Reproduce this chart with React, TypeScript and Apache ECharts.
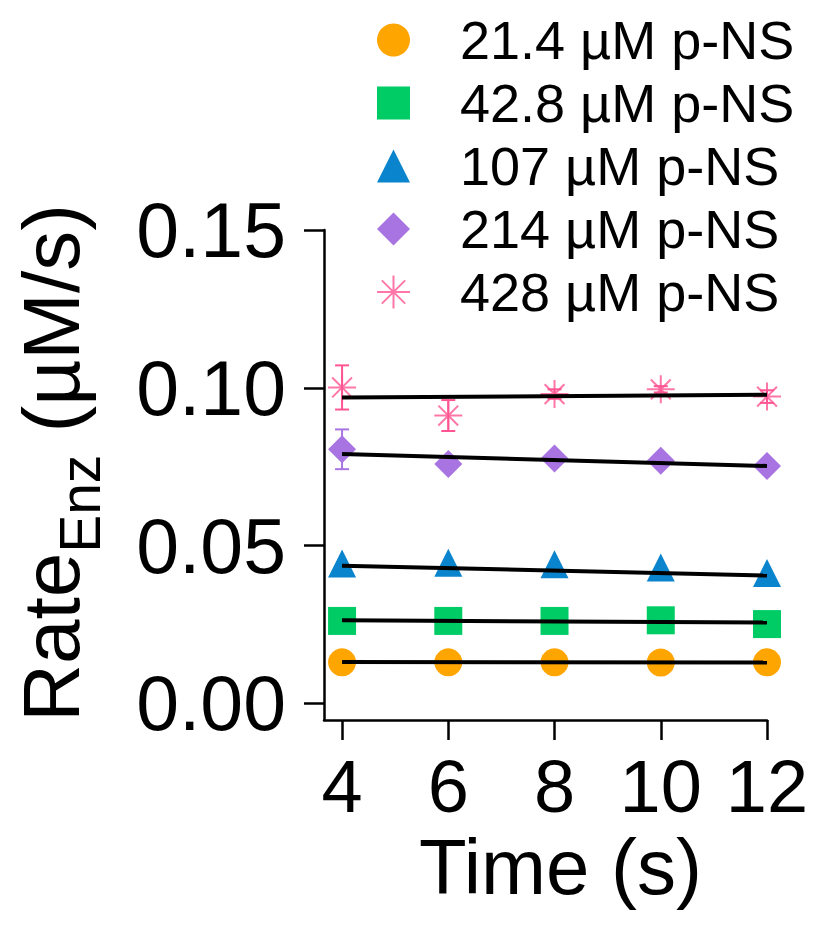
import React, { useEffect, useRef } from "react";
import * as echarts from "echarts";

const times = [4, 6, 8, 10, 12];
const xTicks = [4, 6, 8, 10, 12];
const yTicks = [0, 0.05, 0.1, 0.15];

const names = ["21.4 µM p-NS", "42.8 µM p-NS", "107 µM p-NS", "214 µM p-NS", "428 µM p-NS"];
const r21 = [0.013, 0.013, 0.013, 0.0129, 0.013];
const r43 = [0.0261, 0.0261, 0.0261, 0.0263, 0.0251];
const r107 = [0.0443, 0.0445, 0.0441, 0.043, 0.0413];
const r214 = [0.0805, 0.0758, 0.0776, 0.0769, 0.0752];
const r428 = [0.1001, 0.0912, 0.098, 0.0995, 0.0972];

const err214 = [0.0063, 0, 0, 0, 0];
const err428 = [0.007, 0.0049, 0.0015, 0.001, 0.002];

const fitX = [4, 12];
const fit21 = [0.0131, 0.0129];
const fit43 = [0.0263, 0.0256];
const fit107 = [0.0436, 0.0405];
const fit214 = [0.079, 0.0752];
const fit428 = [0.0969, 0.0978];

const colors = ["#FFA500", "#00CC66", "#0A84CC", "#A874E2", "#FF5592"];
const FONT = "'Liberation Sans', Arial, sans-serif";
const ASTERISK =
  "path://M10 0 L10 20 M0 10 L20 10 M2.93 2.93 L17.07 17.07 M17.07 2.93 L2.93 17.07";

export default function App() {
  const ref = useRef<HTMLDivElement>(null);
  useEffect(() => {
    if (!ref.current) return;
    const chart = echarts.init(ref.current, null, { renderer: "svg" });
    const values = [r21, r43, r107, r214, r428];
    const fits = [fit21, fit43, fit107, fit214, fit428];
    const symbols = ["circle", "rect", "triangle", "diamond", ASTERISK];

    const scatterSeries = values.map((vals, i) => ({
      type: "scatter",
      name: names[i],
      data: times.map((t, j) => [t, vals[j]]),
      symbol: symbols[i],
      symbolSize: 28,
      z: 3,
      itemStyle:
        i === 4
          ? { color: "rgba(0,0,0,0)", borderColor: colors[i], borderWidth: 2 }
          : { color: colors[i], opacity: 1 },
    }));

    const fitSeries = fits.map((f, i) => ({
      type: "line",
      name: "fit" + i,
      data: fitX.map((x, j) => [x, f[j]]),
      showSymbol: false,
      symbol: "none",
      lineStyle: { color: "#000", width: 4 },
      z: 5,
      silent: true,
    }));

    const errSeries = [
      { vals: r214, errs: err214, color: colors[3] },
      { vals: r428, errs: err428, color: colors[4] },
    ].map((e, k) => ({
      type: "custom",
      name: "err" + k,
      z: 2,
      silent: true,
      data: times
        .map((t, j) => [t, e.vals[j] - e.errs[j], e.vals[j] + e.errs[j], e.errs[j]])
        .filter((d) => d[3] > 0),
      renderItem: (params: any, api: any) => {
        const x = api.value(0);
        const p1 = api.coord([x, api.value(2)]);
        const p2 = api.coord([x, api.value(1)]);
        const half = 7;
        const style = { stroke: e.color, lineWidth: 2 };
        return {
          type: "group",
          children: [
            { type: "line", shape: { x1: p1[0], y1: p1[1], x2: p2[0], y2: p2[1] }, style },
            { type: "line", shape: { x1: p1[0] - half, y1: p1[1], x2: p1[0] + half, y2: p1[1] }, style },
            { type: "line", shape: { x1: p2[0] - half, y1: p2[1], x2: p2[0] + half, y2: p2[1] }, style },
          ],
        };
      },
    }));

    chart.setOption({
      animation: false,
      backgroundColor: "#fff",
      grid: { left: 324, right: 47, top: 230, bottom: 213, containLabel: false },
      legend: {
        data: names,
        orient: "vertical",
        left: 371,
        top: 8,
        itemWidth: 33,
        itemHeight: 33,
        itemGap: 9,
        selectedMode: false,
        textStyle: {
          fontSize: 54,
          fontFamily: FONT,
          color: "#000",
          padding: [0, 0, 0, 45],
        },
      },
      xAxis: {
        type: "value",
        min: 3.66,
        max: 12,
        name: "Time (s)",
        nameLocation: "middle",
        nameGap: 89,
        nameTextStyle: { fontSize: 78, fontFamily: FONT, color: "#000", padding: [0, 0, 0, 30] },
        axisLine: { onZero: false, lineStyle: { color: "#000", width: 2.5 } },
        axisTick: { show: true, length: 20, lineStyle: { color: "#000", width: 2.5 }, customValues: xTicks },
        axisLabel: {
          fontSize: 74,
          fontFamily: FONT,
          color: "#000",
          margin: 29,
          customValues: xTicks,
          formatter: (v: number) => String(v),
        },
        splitLine: { show: false },
      },
      yAxis: {
        type: "value",
        min: -0.0053,
        max: 0.15,
        name: "{a|Rate}{b|Enz}{a| (µM/s)}",
        nameLocation: "middle",
        nameRotate: 90,
        nameGap: 216,
        nameTextStyle: {
          fontFamily: FONT,
          color: "#000",
          padding: [0, 0, 0, 24],
          rich: {
            a: { fontSize: 80, lineHeight: 114, verticalAlign: "middle", fontFamily: FONT, color: "#000" },
            b: { fontSize: 57, lineHeight: 57, verticalAlign: "bottom", fontFamily: FONT, color: "#000" },
          },
        },
        axisLine: { onZero: false, lineStyle: { color: "#000", width: 2.5 } },
        axisTick: { show: true, length: 20, lineStyle: { color: "#000", width: 2.5 }, customValues: yTicks },
        axisLabel: {
          fontSize: 77,
          fontFamily: FONT,
          color: "#000",
          margin: 38,
          customValues: yTicks,
          formatter: (v: number) => v.toFixed(2),
        },
        splitLine: { show: false },
      },
      series: [...errSeries, ...scatterSeries, ...fitSeries],
    });
    return () => chart.dispose();
  }, []);
  return (
    <div
      ref={ref}
      style={{ position: "fixed", left: 0, top: 0, width: 814, height: 933, background: "#fff" }}
    />
  );
}
